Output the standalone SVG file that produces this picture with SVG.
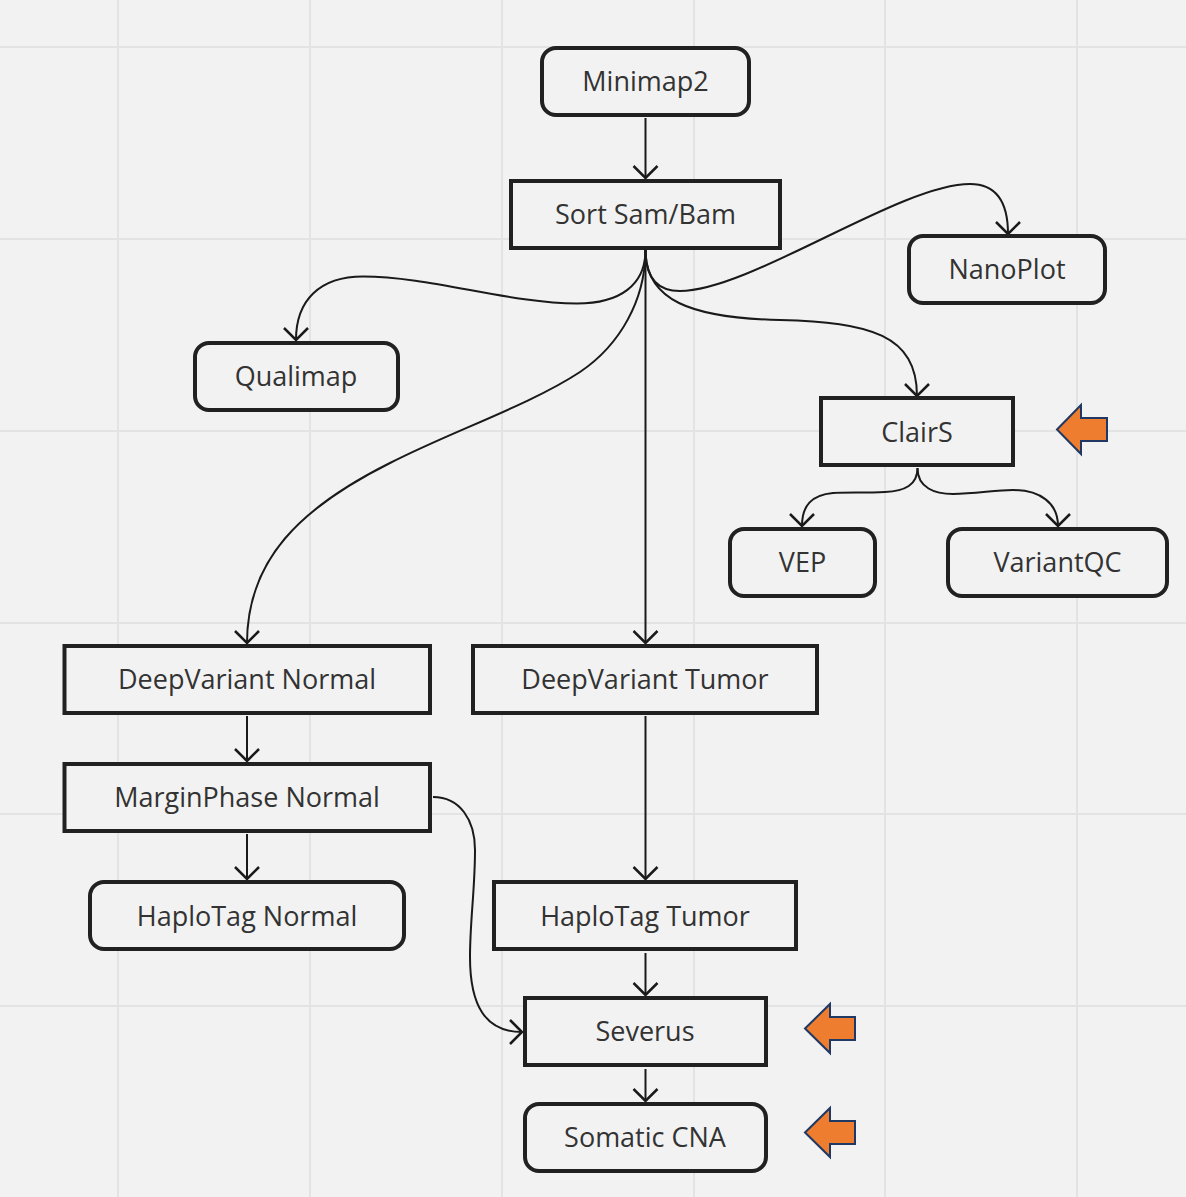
<svg xmlns="http://www.w3.org/2000/svg" width="1186" height="1197" viewBox="0 0 1186 1197">
<style>
.g{stroke:#e3e3e3;stroke-width:2;fill:none}
.n{fill:#f2f2f2;stroke:#212121;stroke-width:4}
.t{font-family:"Open Sans",sans-serif;font-size:27px;fill:#333;text-anchor:middle}
.c{fill:none;stroke:#1a1a1a;stroke-width:2;marker-end:url(#a)}
.o{fill:#ee7d2f;stroke:#1f3864;stroke-width:2}
</style>
<defs><marker id="a" markerUnits="userSpaceOnUse" markerWidth="30" markerHeight="30" refX="26" refY="15" orient="auto"><path d="M14 3L26 15L14 27" fill="none" stroke="#1a1a1a" stroke-width="2.500"/></marker></defs>
<rect width="1186" height="1197" fill="#f2f2f2"/>
<g id="grid"><path class="g" d="M118 0V1197M310 0V1197M502 0V1197M694 0V1197M885 0V1197M1077 0V1197M0 47H1186M0 239H1186M0 431H1186M0 623H1186M0 814H1186M0 1006H1186"/></g>
<g id="connectors">
<path class="c" d="M645.500 118V178"/>
<path class="c" d="M645.500 250C645.500 285 620 303.500 577 303.500C510 303.500 430 276.500 363 276.500C320 276.500 296 300 296 340"/>
<path class="c" d="M645.500 250C645.500 275 655 291 680 291C750 291 900 184 970 184C995 184 1008 200 1008 234"/>
<path class="c" d="M645.500 250C645.500 300 690 318 780 320C870 322 917 335 917 396"/>
<path class="c" d="M645.500 250C645.500 300 620 345 580 372C530 405 450 432 390 463C300 508 247 560 247 643"/>
<path class="c" d="M645.500 250V643"/>
<path class="c" d="M917.500 468C917.500 485 905 491 885 492C865 493 845 492 833 493C812 495 802 505 802 526"/>
<path class="c" d="M917.500 468C917.500 488 935 494 953 494C975 494 995 490 1013 490C1040 490 1058 503 1058 526"/>
<path class="c" d="M247 716V761"/>
<path class="c" d="M247 834V879"/>
<path class="c" d="M645.500 716V879"/>
<path class="c" d="M645.500 953V995"/>
<path class="c" d="M645.500 1069V1101"/>
<path class="c" d="M433 797C460 797 475 820 475 850C475 890 470 920 470 957C470 1005 485 1032 522 1032"/>
</g>
<g id="minimap2"><rect class="n" x="542" y="48" width="207" height="67" rx="14"/><text class="t" x="645.500" y="91">Minimap2</text></g>
<g id="sort"><rect class="n" x="511" y="181" width="269" height="67"/><text class="t" x="645.500" y="224">Sort Sam/Bam</text></g>
<g id="nanoplot"><rect class="n" x="909" y="236" width="196" height="67" rx="14"/><text class="t" x="1007" y="279">NanoPlot</text></g>
<g id="qualimap"><rect class="n" x="195" y="343" width="203" height="67" rx="14"/><text class="t" x="296" y="386">Qualimap</text></g>
<g id="clairs"><rect class="n" x="821" y="398" width="192" height="67"/><text class="t" x="917" y="442">ClairS</text></g>
<g id="vep"><rect class="n" x="730" y="529" width="145" height="67" rx="14"/><text class="t" x="802.500" y="572">VEP</text></g>
<g id="variantqc"><rect class="n" x="948" y="529" width="219" height="67" rx="14"/><text class="t" x="1057.500" y="572">VariantQC</text></g>
<g id="dvn"><rect class="n" x="64.500" y="646" width="365.500" height="67"/><text class="t" x="247" y="689">DeepVariant Normal</text></g>
<g id="dvt"><rect class="n" x="473" y="646" width="344" height="67"/><text class="t" x="645" y="689">DeepVariant Tumor</text></g>
<g id="mpn"><rect class="n" x="64.500" y="764" width="365.500" height="67"/><text class="t" x="247" y="807">MarginPhase Normal</text></g>
<g id="htn"><rect class="n" x="90" y="882" width="314" height="67" rx="14"/><text class="t" x="247" y="926">HaploTag Normal</text></g>
<g id="htt"><rect class="n" x="494" y="882" width="302" height="67"/><text class="t" x="645" y="926">HaploTag Tumor</text></g>
<g id="severus"><rect class="n" x="525" y="998" width="241" height="67"/><text class="t" x="645" y="1041">Severus</text></g>
<g id="cna"><rect class="n" x="525" y="1104" width="241" height="67" rx="14"/><text class="t" x="645" y="1147">Somatic CNA</text></g>
<g id="arrows">
<path class="o" d="M1057 429.500L1081 405V418H1107V441H1081V454Z"/>
<path class="o" d="M805 1028.500L830 1004V1017H855V1040H830V1053Z"/>
<path class="o" d="M805 1132.500L830 1108V1121H855V1144H830V1157Z"/>
</g>
</svg>
